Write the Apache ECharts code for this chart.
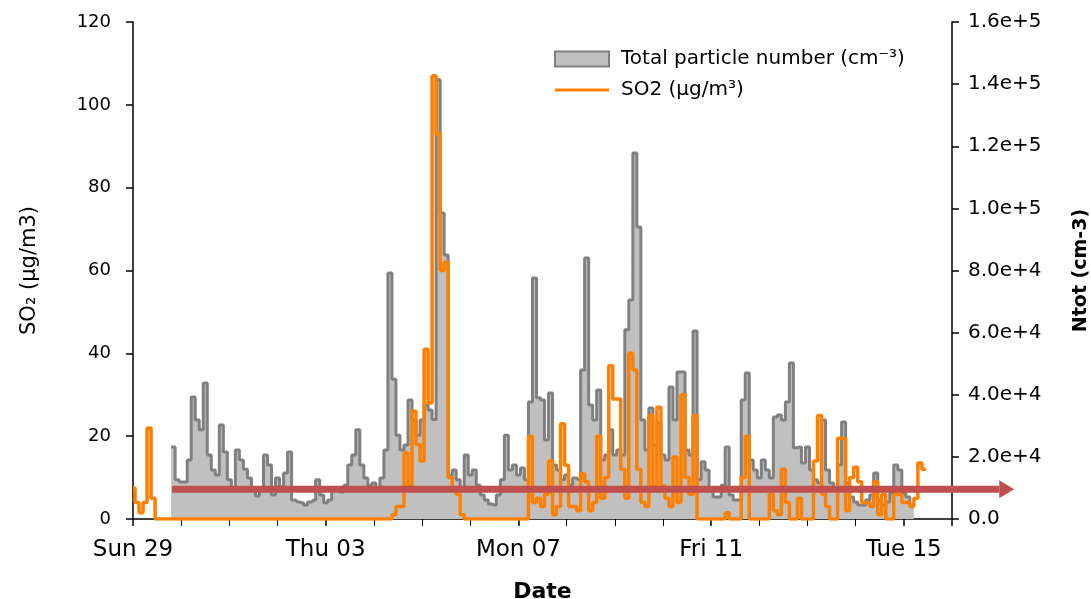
<!DOCTYPE html>
<html><head><meta charset="utf-8">
<script src="https://cdn.jsdelivr.net/npm/echarts@6/dist/echarts.min.js"></script>
<style>html,body{margin:0;padding:0;background:#fff}#c{width:1091px;height:599px}</style>
</head><body><div id="c"></div>
<script>
// time grid: hours since Sun 29 00:00, one value every 2 hours
const stepHours = 2;
const xTickLabels = ['Sun 29', 'Thu 03', 'Mon 07', 'Fri 11', 'Tue 15'];
const rightTickLabels = ['0.0', '2.0e+4', '4.0e+4', '6.0e+4', '8.0e+4', '1.0e+5', '1.2e+5', '1.4e+5', '1.6e+5'];
const legendNames = ['Total particle number (cm\u207B\u00B3)', 'SO2 (\u00B5g/m\u00B3)'];

// SO2 (µg/m3)
const so2 = [
  7.5,4,1.5,4,22,5,0,0,0,0,
  0,0,0,0,0,0,0,0,0,0,
  0,0,0,0,0,0,0,0,0,0,
  0,0,0,0,0,0,0,0,0,0,
  0,0,0,0,0,0,0,0,0,0,
  0,0,0,0,0,0,0,0,0,0,
  0,0,0,0,0,1,3,3,16,8,
  26,18,14,41,28,107,93,60,62,10,
  7,6,1,0,0,0,0,0,0,0,
  0,0,0,0,0,0,0,0,0,20,
  4,5,3,6,14,1,3,23,13,3,
  3,2,11,9,2,4,20,5,10,37,
  29,29,12,5,40,36,12,4,3,25,
  8,27,8,5,3,15,4,30,10,6,
  25,0,0,0,0,0,0,0,1.5,0,
  0,0,10,20,0,0,0,0,0,6,
  2,1,12,4,0,0,5,0,0,0,
  14,25,6,3,0,0,19.5,19.5,2,10,
  12.5,9,4,4,3,9,1,6,0,0,
  6,6,4,4,3,5,13.5,12,null,null,
  null,null,null,null,null
];

// Total particle number (cm-3)
const ntot = [
  null,null,null,null,null,null,null,null,null,null,
  23200,12600,11900,11900,19000,39300,31900,28700,43800,20600,
  15800,14200,30300,21600,12600,10000,22200,19000,16000,13200,
  9300,7400,9300,20600,17400,7700,13200,10300,14800,21600,
  6100,5500,5200,4500,5500,6100,12600,7700,5200,6100,
  9300,10000,8700,10900,17400,20600,28700,17400,13200,10900,
  11600,10000,13200,22200,79200,45000,27000,22200,23800,38300,
  31900,27000,31900,36700,35100,32000,141400,98500,85000,14000,
  15800,12600,9300,20600,14200,15800,10900,7700,6100,4800,
  4500,7700,12600,27000,15800,17400,14200,16400,12600,37700,
  77600,39000,38300,25400,40600,17400,15800,12600,14200,10900,
  13200,12600,48000,84000,36700,31900,41500,19000,20600,28700,
  20600,22200,20600,60900,70500,117800,94000,31900,22200,35700,
  23800,30900,20600,19000,42500,31900,47300,47300,22200,20600,
  60500,12600,18400,15800,9300,7100,7100,10900,23200,7700,
  6100,6100,38300,47000,19000,15800,13200,19000,15800,13200,
  32800,33500,31900,37700,50200,22900,23200,18000,23200,15800,
  12600,11600,31900,15800,11600,9300,17400,31200,11600,7100,
  5500,4500,4500,6100,7700,14800,6100,4500,5500,8400,
  17400,15800,8400,7100,4500,null,null,null,null,null,
  null,null,null,null,null
];

// reference arrow annotation (hours, SO2 value)
const arrowFrom = [19.5, 7.2];
const arrowTo = [439, 7.2];

const FONT = 'DejaVu Sans';
const chart = echarts.init(document.getElementById('c'));
chart.setOption({
  animation: false,
  backgroundColor: '#fff',
  grid: { left: 133, right: 139, top: 22, bottom: 80, containLabel: false, outerBoundsMode: 'none' },
  legend: {
    orient: 'vertical', left: 549, top: 44, itemWidth: 54, itemHeight: 15, itemGap: 11,
    textStyle: { fontFamily: FONT, fontSize: 20, color: '#000', padding: [0, 0, 0, 7] },
    data: [
      { name: legendNames[0], icon: 'rect', itemStyle: { color: '#c0c0c0', borderColor: '#808080', borderWidth: 2 } },
      { name: legendNames[1], icon: 'path://M0,0 L54,0 L54,3 L0,3 Z', itemStyle: { color: '#ff8000', borderWidth: 0 } }
    ]
  },
  xAxis: {
    type: 'value', min: 0, max: 408, interval: 96,
    name: 'Date', nameLocation: 'middle', nameGap: 62,
    nameTextStyle: { fontFamily: FONT, fontSize: 22, color: '#000', fontWeight: 'bold' },
    axisLine: { lineStyle: { color: '#000', width: 1.5 } },
    axisTick: { show: true, length: 7, lineStyle: { color: '#000', width: 1.5 } },
    minorTick: { show: true, splitNumber: 4, length: 7, lineStyle: { color: '#000', width: 1 } },
    splitLine: { show: false },
    axisLabel: {
      fontFamily: FONT, fontSize: 23, color: '#000', margin: 20,
      formatter: v => { const k = v / 96; return Number.isInteger(k) && xTickLabels[k] ? xTickLabels[k] : ''; }
    }
  },
  yAxis: [
    {
      type: 'value', min: 0, max: 120, interval: 20, position: 'left',
      name: 'SO\u2082 (\u00B5g/m3)', nameLocation: 'middle', nameGap: 93, nameRotate: 90,
      nameTextStyle: { fontFamily: FONT, fontSize: 21, color: '#000' },
      axisLine: { show: true, lineStyle: { color: '#000', width: 1.5 } },
      axisTick: { show: true, length: 7, lineStyle: { color: '#000', width: 1.5 } },
      splitLine: { show: false },
      axisLabel: { fontFamily: FONT, fontSize: 18, color: '#000', margin: 22 }
    },
    {
      type: 'value', min: 0, max: 160000, interval: 20000, position: 'right',
      name: 'Ntot (cm-3)', nameLocation: 'middle', nameGap: 120, nameRotate: 90,
      nameTextStyle: { fontFamily: FONT, fontSize: 19, color: '#000', fontWeight: 'bold' },
      axisLine: { show: true, lineStyle: { color: '#000', width: 1.5 } },
      axisTick: { show: true, length: 7, lineStyle: { color: '#000', width: 1.5 } },
      splitLine: { show: false },
      axisLabel: {
        fontFamily: FONT, fontSize: 20, color: '#000', margin: 16,
        formatter: v => rightTickLabels[Math.round(v / 20000)]
      }
    }
  ],
  series: [
    {
      name: legendNames[0], type: 'line', yAxisIndex: 1, step: 'middle',
      symbol: 'none', connectNulls: false,
      data: ntot.map((v, i) => [i * stepHours, v]),
      lineStyle: { color: '#808080', width: 3 },
      itemStyle: { color: '#c0c0c0' },
      areaStyle: { color: '#c0c0c0', opacity: 1 },
      z: 2
    },
    {
      name: legendNames[1], type: 'line', yAxisIndex: 0, step: 'middle',
      symbol: 'none', connectNulls: false,
      data: so2.map((v, i) => [i * stepHours, v]),
      lineStyle: { color: '#ff8000', width: 3.5 },
      itemStyle: { color: '#ff8000' },
      z: 3
    }
  ]
});

const p0 = chart.convertToPixel({ xAxisIndex: 0, yAxisIndex: 0 }, arrowFrom);
const p1 = chart.convertToPixel({ xAxisIndex: 0, yAxisIndex: 0 }, arrowTo);
const headLen = 15, headHalf = 9;
chart.setOption({
  graphic: [
    { type: 'line', z: 100, shape: { x1: p0[0], y1: p0[1], x2: p1[0] - headLen, y2: p1[1] },
      style: { stroke: '#c0504d', lineWidth: 7 } },
    { type: 'polygon', z: 100, shape: { points: [[p1[0] - headLen, p1[1] - headHalf], [p1[0], p1[1]], [p1[0] - headLen, p1[1] + headHalf]] },
      style: { fill: '#c0504d' } }
  ]
});
</script>
</body></html>
